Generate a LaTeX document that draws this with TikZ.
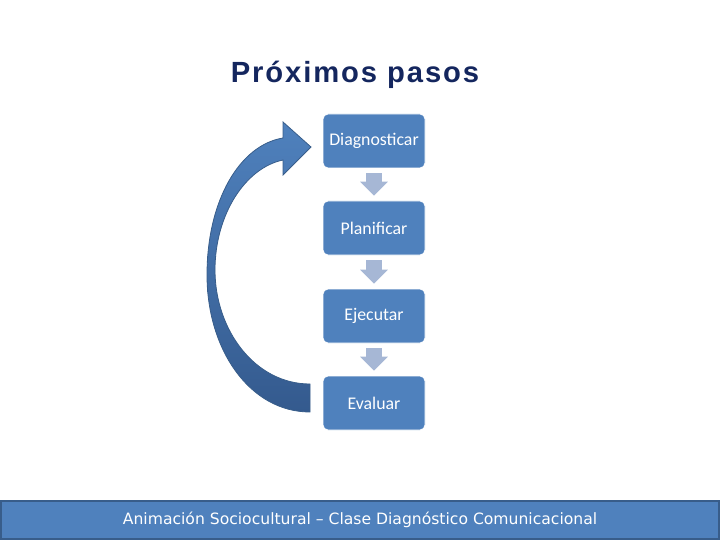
\documentclass[tikz,border=0pt]{standalone}
\usepackage{fontspec}
\setmainfont{Carlito}
\newfontfamily\titlefont[LetterSpace=6.5]{Liberation Sans}
\newfontfamily\footfont{DejaVu Sans}
\usetikzlibrary{arrows.meta,positioning,calc}
\definecolor{stepblue}{RGB}{79,129,189}
\definecolor{stepdark}{RGB}{56,93,138}
\definecolor{loopdark}{RGB}{52,90,142}
\definecolor{flowgray}{RGB}{166,183,213}
\definecolor{titlenavy}{RGB}{20,38,94}

\begin{document}
\begin{tikzpicture}[x=1pt,y=-1pt,
    stepbox/.style={draw=white,line width=0.8pt,fill=stepblue,rounded corners=5pt,minimum width=102pt,minimum height=54pt,text=white,font=\fontsize{17.8}{20}\selectfont},
    flow/.style={line width=16pt,draw=flowgray,-{Triangle[length=14pt,width=27pt]},shorten <=5pt,shorten >=5pt}
]
\useasboundingbox (0,0) rectangle (720,540);
\node[anchor=base,text=titlenavy,font=\titlefont\fontsize{29.2}{32}\selectfont\bfseries] (title) at (355,83) {Próximos pasos};

\node[stepbox] (diag) at (374,141) {Diagnosticar};
\node[stepbox] (plan) at (374,228) {Planificar};
\node[stepbox] (ejec) at (374,316) {Ejecutar};
\node[stepbox] (eval) at (374,403) {Evaluar};

\draw[flow] (diag.south) -- (plan.north);
\draw[flow] (plan.south) -- (ejec.north);
\draw[flow] (ejec.south) -- (eval.north);

\draw[stepdark,line width=0.8pt,top color=stepblue,bottom color=loopdark]
  (283,122) -- (311,147) -- (283,175) -- (283,160)
  .. controls (245,168) and (215,215) .. (215,270)
  .. controls (215,330) and (255,384) .. (310,384)
  -- (310,412)
  .. controls (250,412) and (207,350) .. (207,275)
  .. controls (207,200) and (240,145) .. (283,138) -- cycle;

\node[draw=stepdark,line width=2pt,fill=stepblue,minimum width=718pt,minimum height=38pt,inner sep=0pt] (band) at (360,520) {};
\node[text=white,font=\footfont\fontsize{15.6}{18}\selectfont] (foot) at (band.center) {Animación Sociocultural – Clase Diagnóstico Comunicacional};
\end{tikzpicture}
\end{document}
